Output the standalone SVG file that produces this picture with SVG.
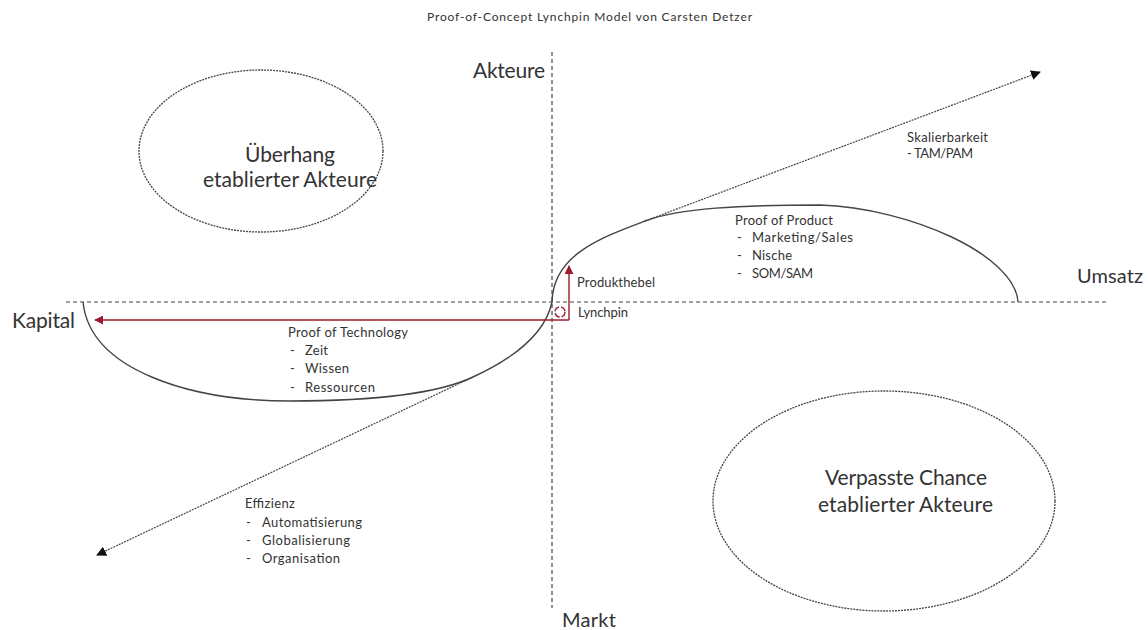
<svg xmlns="http://www.w3.org/2000/svg" width="1148" height="630" viewBox="0 0 1148 630">
<style>
text{font-family:Lato,"Open Sans","Liberation Sans",sans-serif;fill:#333}
.t{font-size:12px;fill:#333}
.big{font-size:21px}
.mid{font-size:20px}
.sm{font-size:13px}
.axis{stroke:#444;stroke-width:1.2;stroke-dasharray:4 3;fill:none}
.dot{stroke:#444;stroke-width:1.2;stroke-dasharray:2 1;fill:none}
.ell{stroke:#444;stroke-width:1.3;stroke-dasharray:2 1;fill:none}
.curve{stroke:#444;stroke-width:1.4;fill:none}
.red{stroke:#9b1c2e;stroke-width:1.4;fill:none}
</style>
<defs>
<marker id="ab" viewBox="0 0 10 10" refX="9" refY="5" markerWidth="10" markerHeight="10" markerUnits="userSpaceOnUse" orient="auto-start-reverse">
<path d="M0,0 L10,5 L0,10 z" fill="#111"/>
</marker>
<marker id="ar" viewBox="0 0 10 10" refX="9" refY="5" markerWidth="9" markerHeight="9" markerUnits="userSpaceOnUse" orient="auto">
<path d="M0,0 L10,5 L0,10 z" fill="#9b1c2e"/>
</marker>
</defs>
<rect width="1148" height="630" fill="#fff"/>
<text class="t" x="427" y="21" textLength="325">Proof-of-Concept Lynchpin Model von Carsten Detzer</text>

<g id="axes">
<line class="axis" x1="66" y1="302" x2="1108" y2="302"/>
<line class="axis" x1="552" y1="52" x2="552" y2="608"/>
<text class="big" x="473" y="78" textLength="72">Akteure</text>
<text class="big" x="12" y="328" textLength="63">Kapital</text>
<text class="mid" x="1077" y="283" textLength="66">Umsatz</text>
<text class="mid" x="562" y="627" textLength="54">Markt</text>
</g>

<g id="ueberhang">
<ellipse class="ell" cx="261" cy="151" rx="122" ry="81"/>
<text class="big" x="245" y="162" textLength="90">Überhang</text>
<text class="big" x="203" y="187" textLength="174">etablierter Akteure</text>
</g>

<g id="verpasste-chance">
<ellipse class="ell" cx="884" cy="501" rx="171" ry="110"/>
<text class="big" x="825" y="485" textLength="162">Verpasste Chance</text>
<text class="big" x="818" y="512" textLength="175">etablierter Akteure</text>
</g>

<g id="s-curve">
<path class="curve" d="M83,302 C90,370 190,401 290,401 C370,401 435,395 473,377 C510,360 545,335 552,302 C553,255 600,238 645,221 C680,208 740,205 820,205 C910,208 1015,255 1018,302"/>
</g>

<g id="connectors">
<line class="dot" x1="473" y1="377" x2="97" y2="555" marker-end="url(#ab)"/>
<line class="dot" x1="645" y1="221" x2="1040" y2="72" marker-end="url(#ab)"/>
<line class="red" x1="569" y1="320" x2="95" y2="320" marker-end="url(#ar)"/>
<line class="red" x1="569" y1="320" x2="569" y2="266" marker-end="url(#ar)"/>
<circle class="red" cx="560" cy="312" r="5" stroke-dasharray="6 2" stroke-width="1.2"/>
</g>

<g id="skalierbarkeit">
<text class="sm" x="907" y="142" textLength="81">Skalierbarkeit</text>
<text class="sm" x="907" y="158" textLength="66">- TAM/PAM</text>
</g>

<g id="proof-of-product">
<text class="sm" x="735" y="225" textLength="98">Proof of Product</text>
<text class="sm" x="737" y="242">-</text><text class="sm" x="752" y="242" textLength="101">Marketing/Sales</text>
<text class="sm" x="737" y="260">-</text><text class="sm" x="752" y="260" textLength="40">Nische</text>
<text class="sm" x="737" y="278">-</text><text class="sm" x="752" y="278" textLength="61">SOM/SAM</text>
</g>

<g id="lynchpin">
<text class="sm" x="577" y="287" textLength="78">Produkthebel</text>
<text class="sm" x="578" y="317" textLength="50">Lynchpin</text>
</g>

<g id="proof-of-technology">
<text class="sm" x="288" y="337" textLength="120">Proof of Technology</text>
<text class="sm" x="290" y="355">-</text><text class="sm" x="305" y="355" textLength="23">Zeit</text>
<text class="sm" x="290" y="373">-</text><text class="sm" x="305" y="373" textLength="44">Wissen</text>
<text class="sm" x="290" y="392">-</text><text class="sm" x="305" y="392" textLength="70">Ressourcen</text>
</g>

<g id="effizienz">
<text class="sm" x="245" y="508" textLength="50">Effizienz</text>
<text class="sm" x="246" y="527">-</text><text class="sm" x="262" y="527" textLength="100">Automatisierung</text>
<text class="sm" x="246" y="545">-</text><text class="sm" x="262" y="545" textLength="88">Globalisierung</text>
<text class="sm" x="246" y="563">-</text><text class="sm" x="262" y="563" textLength="78">Organisation</text>
</g>
</svg>
